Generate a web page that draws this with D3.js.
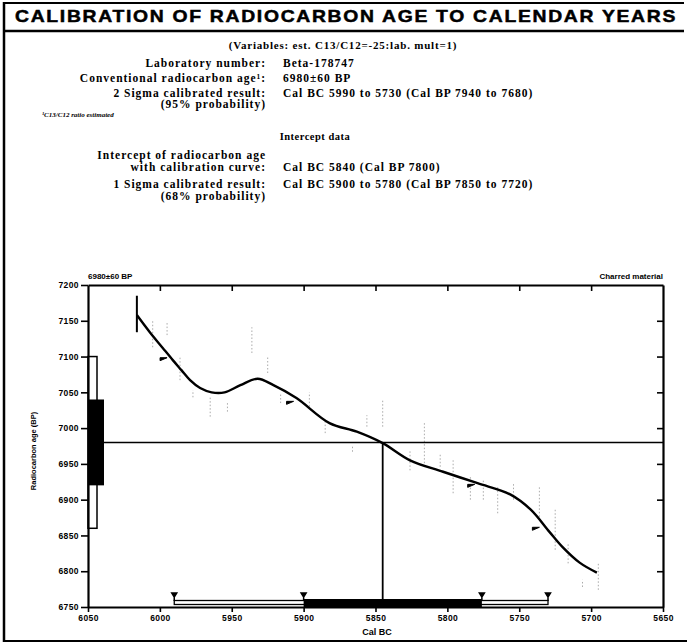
<!DOCTYPE html>
<html>
<head>
<meta charset="utf-8">
<script src="https://cdn.jsdelivr.net/npm/d3@7"></script>
<style>
  body { margin: 0; background: #fff; }
  svg { display: block; }
  .serif { font-family: "Liberation Serif", "DejaVu Serif", serif; font-weight: bold; fill: #000; }
  .sans { font-family: "Liberation Sans", Arial, sans-serif; font-weight: bold; fill: #000; }
  .axis path, .axis line { stroke: #000; }
  .axis path { stroke-width: 2.2; }
  .axis line { stroke-width: 1.6; }
  .axis text { font-family: "Liberation Sans", Arial, sans-serif; font-weight: bold; font-size: 8.5px; letter-spacing: 0.4px; fill: #000; }
</style>
</head>
<body>
<svg id="chart" width="687" height="643"></svg>
<script>
// header text block
const infoRows = [
  ["Laboratory number:", "Beta-178747"],
  ["Conventional radiocarbon age\u00b9:", "6980\u00b160 BP"],
  ["2 Sigma calibrated result:", "Cal BC 5990 to 5730 (Cal BP 7940 to 7680)"],
  ["(95% probability)", ""]
];
const interceptRows = [
  ["Intercept of radiocarbon age", ""],
  ["with calibration curve:", "Cal BC 5840 (Cal BP 7800)"],
  ["1 Sigma calibrated result:", "Cal BC 5900 to 5780 (Cal BP 7850 to 7720)"],
  ["(68% probability)", ""]
];

// measured age and its sigma ranges (BP)
const age = 6980;
const age1Sigma = [6920, 7040];
const age2Sigma = [6860, 7100];

// calibrated ranges (Cal BC)
const cal2Sigma = [5990, 5730];
const cal1Sigma = [5900, 5776];
const interceptBC = 5845;

// calibration curve [cal BC, BP]
const curveBC = [6016, 6007, 5998, 5991, 5985, 5979, 5972, 5964, 5955, 5944, 5932, 5921, 5905, 5882, 5863, 5845, 5826, 5803, 5779, 5756, 5742, 5729, 5720, 5708, 5696];
const curveBP = [7158, 7134, 7112, 7095, 7081, 7067, 7056, 7050, 7050, 7060, 7069, 7060, 7042, 7007, 6995, 6979, 6955, 6939, 6923, 6907, 6886, 6855, 6834, 6812, 6798];

// start-of-curve bar
const startBar = [6016, 7134, 7185];

// small flags on the curve [cal BC, BP]
const flags = [[5995, 7097], [5907, 7036], [5781, 6920], [5736, 6860]];

// faint raw data dashes [cal BC, BP low, BP high]
const rawData = [
  [6005, 7113, 7151], [5995, 7130, 7148], [5986, 7067, 7099], [5977, 7043, 7053],
  [5965, 7016, 7043], [5953, 7023, 7035], [5936, 7105, 7141], [5925, 7077, 7099],
  [5916, 7035, 7049], [5896, 7030, 7050], [5885, 6993, 7011], [5866, 6967, 6974],
  [5856, 7002, 7018], [5845, 7002, 7039], [5826, 6941, 6969], [5816, 6951, 7007],
  [5805, 6946, 6965], [5796, 6909, 6955], [5784, 6900, 6932], [5775, 6900, 6927],
  [5765, 6881, 6918], [5754, 6900, 6923], [5736, 6876, 6918], [5725, 6830, 6886],
  [5716, 6811, 6839], [5706, 6778, 6788], [5695, 6774, 6811]
];

const xTicks = [6050, 6000, 5950, 5900, 5850, 5800, 5750, 5700, 5650];
const yTicks = [6750, 6800, 6850, 6900, 6950, 7000, 7050, 7100, 7150, 7200];

const svg = d3.select("#chart");

// frame
svg.append("line").attr("x1", 4).attr("x2", 684).attr("y1", 3).attr("y2", 3)
   .attr("stroke", "#000").attr("stroke-width", 2);
svg.append("line").attr("x1", 4).attr("x2", 684).attr("y1", 31).attr("y2", 31)
   .attr("stroke", "#000").attr("stroke-width", 2.5);
svg.append("line").attr("x1", 4).attr("x2", 4).attr("y1", 2).attr("y2", 642)
   .attr("stroke", "#000").attr("stroke-width", 2.5);
svg.append("line").attr("x1", 3).attr("x2", 687).attr("y1", 641).attr("y2", 641)
   .attr("stroke", "#000").attr("stroke-width", 2);

// title
svg.append("text").attr("class", "sans")
   .attr("x", 15).attr("y", 22)
   .attr("font-size", 17).attr("letter-spacing", 1.5)
   .attr("stroke", "#000").attr("stroke-width", 0.5)
   .attr("textLength", 662).attr("lengthAdjust", "spacingAndGlyphs")
   .text("CALIBRATION OF RADIOCARBON  AGE TO CALENDAR YEARS");

svg.append("text").attr("class", "serif")
   .attr("x", 343).attr("y", 49).attr("text-anchor", "middle")
   .attr("font-size", 11).attr("letter-spacing", 0.8)
   .text("(Variables: est. C13/C12=-25:lab. mult=1)");

const labelX = 266, valueX = 283;

function rows(data, ys) {
  data.forEach((r, i) => {
    svg.append("text").attr("class", "serif")
       .attr("x", labelX).attr("y", ys[i]).attr("text-anchor", "end")
       .attr("font-size", 11.5).attr("letter-spacing", 1)
       .text(r[0]);
    if (r[1]) {
      svg.append("text").attr("class", "serif")
         .attr("x", valueX).attr("y", ys[i])
         .attr("font-size", 11.5).attr("letter-spacing", 1)
         .text(r[1]);
    }
  });
}
rows(infoRows, [67, 82, 97, 108]);
rows(interceptRows, [159, 171, 188, 200]);

svg.append("text").attr("class", "serif")
   .attr("x", 42).attr("y", 117)
   .attr("font-size", 7).attr("font-style", "italic")
   .text("\u00b9C13/C12 ratio estimated");

svg.append("text").attr("class", "serif")
   .attr("x", 315).attr("y", 140).attr("text-anchor", "middle")
   .attr("font-size", 10.5).attr("letter-spacing", 0.5)
   .text("Intercept data");

// plot
const x = d3.scaleLinear().domain([6050, 5650]).range([88, 663]);
const y = d3.scaleLinear().domain([6750, 7200]).range([607, 285]);

// raw data dashes
svg.append("g").selectAll("line")
   .data(rawData).enter().append("line")
   .attr("x1", d => x(d[0])).attr("x2", d => x(d[0]))
   .attr("y1", d => y(d[1])).attr("y2", d => y(d[2]))
   .attr("stroke", "#aaa").attr("stroke-width", 1)
   .attr("stroke-dasharray", "1.5,2");

// intercept lines
svg.append("line")
   .attr("x1", x(6050)).attr("x2", x(5650))
   .attr("y1", y(age)).attr("y2", y(age))
   .attr("stroke", "#000").attr("stroke-width", 1.5);
svg.append("line")
   .attr("x1", x(interceptBC)).attr("x2", x(interceptBC))
   .attr("y1", y(age)).attr("y2", y(6750))
   .attr("stroke", "#000").attr("stroke-width", 1.8);

// age distribution on the y axis
svg.append("rect")
   .attr("x", x(6050)).attr("width", 9)
   .attr("y", y(age2Sigma[1])).attr("height", y(age2Sigma[0]) - y(age2Sigma[1]))
   .attr("fill", "#fff").attr("stroke", "#000").attr("stroke-width", 1.5);
svg.append("rect")
   .attr("x", x(6050)).attr("width", 16)
   .attr("y", y(age1Sigma[1])).attr("height", y(age1Sigma[0]) - y(age1Sigma[1]))
   .attr("fill", "#000");

// calibration curve
const line = d3.line().x(d => x(d[0])).y(d => y(d[1])).curve(d3.curveCatmullRom);
svg.append("path")
   .datum(curveBC.map((d, i) => [d, curveBP[i]]))
   .attr("d", line)
   .attr("fill", "none").attr("stroke", "#000").attr("stroke-width", 2.4);

svg.append("line")
   .attr("x1", x(startBar[0])).attr("x2", x(startBar[0]))
   .attr("y1", y(startBar[1])).attr("y2", y(startBar[2]))
   .attr("stroke", "#000").attr("stroke-width", 2);

svg.append("g").selectAll("path")
   .data(flags).enter().append("path")
   .attr("d", d => {
     const px = x(d[0]), py = y(d[1]);
     return `M${px},${py - 1}L${px - 7},${py - 1}L${px - 7},${py + 2}Z`;
   })
   .attr("fill", "#000").attr("stroke", "#000").attr("stroke-width", 1);

// calibrated ranges on the x axis
const yb = y(6750);
svg.append("rect")
   .attr("x", x(cal2Sigma[0])).attr("width", x(cal2Sigma[1]) - x(cal2Sigma[0]))
   .attr("y", yb - 6.5).attr("height", 4)
   .attr("fill", "#fff").attr("stroke", "#000").attr("stroke-width", 1.3);
svg.append("rect")
   .attr("x", x(cal1Sigma[0])).attr("width", x(cal1Sigma[1]) - x(cal1Sigma[0]))
   .attr("y", yb - 8).attr("height", 8)
   .attr("fill", "#000");
svg.append("g").selectAll("g")
   .data([cal2Sigma[0], cal1Sigma[0], cal1Sigma[1], cal2Sigma[1]]).enter().append("path")
   .attr("d", d => {
     const px = x(d);
     return `M${px - 2.5},${yb - 14}L${px + 2.5},${yb - 14}L${px},${yb - 10}Z M${px},${yb - 10}L${px},${yb - 6}`;
   })
   .attr("fill", "#000").attr("stroke", "#000").attr("stroke-width", 1.5);

// axes
const fmt = d3.format("d");
svg.append("g").attr("class", "axis")
   .attr("transform", `translate(${x(6050)},0)`)
   .call(d3.axisLeft(y).tickValues(yTicks).tickSize(7).tickSizeOuter(0).tickPadding(2).tickFormat(fmt));
svg.append("g").attr("class", "axis")
   .attr("transform", `translate(${x(5650)},0)`)
   .call(d3.axisLeft(y).tickValues(yTicks.slice(1, -1)).tickSize(6).tickSizeOuter(0).tickFormat(""));
svg.append("g").attr("class", "axis")
   .attr("transform", `translate(0,${yb})`)
   .call(d3.axisBottom(x).tickValues(xTicks).tickSize(5).tickSizeOuter(0).tickPadding(3).tickFormat(fmt));
svg.append("g").attr("class", "axis")
   .attr("transform", `translate(0,${y(7200)})`)
   .call(d3.axisBottom(x).tickValues(xTicks.slice(1, -1)).tickSize(6).tickSizeOuter(0).tickFormat(""));

// plot labels
svg.append("text").attr("class", "sans")
   .attr("x", x(6050)).attr("y", 279).attr("font-size", 8)
   .text("6980\u00b160 BP");
svg.append("text").attr("class", "sans")
   .attr("x", x(5650)).attr("y", 279).attr("font-size", 8).attr("text-anchor", "end")
   .text("Charred material");
svg.append("text").attr("class", "sans")
   .attr("x", 377).attr("y", 635).attr("font-size", 9).attr("text-anchor", "middle")
   .text("Cal BC");
svg.append("text").attr("class", "sans")
   .attr("transform", `translate(36,${(y(6750) + y(7200)) / 2 + 5}) rotate(-90)`)
   .attr("font-size", 7.5).attr("text-anchor", "middle")
   .text("Radiocarbon age (BP)");
</script>
</body>
</html>
